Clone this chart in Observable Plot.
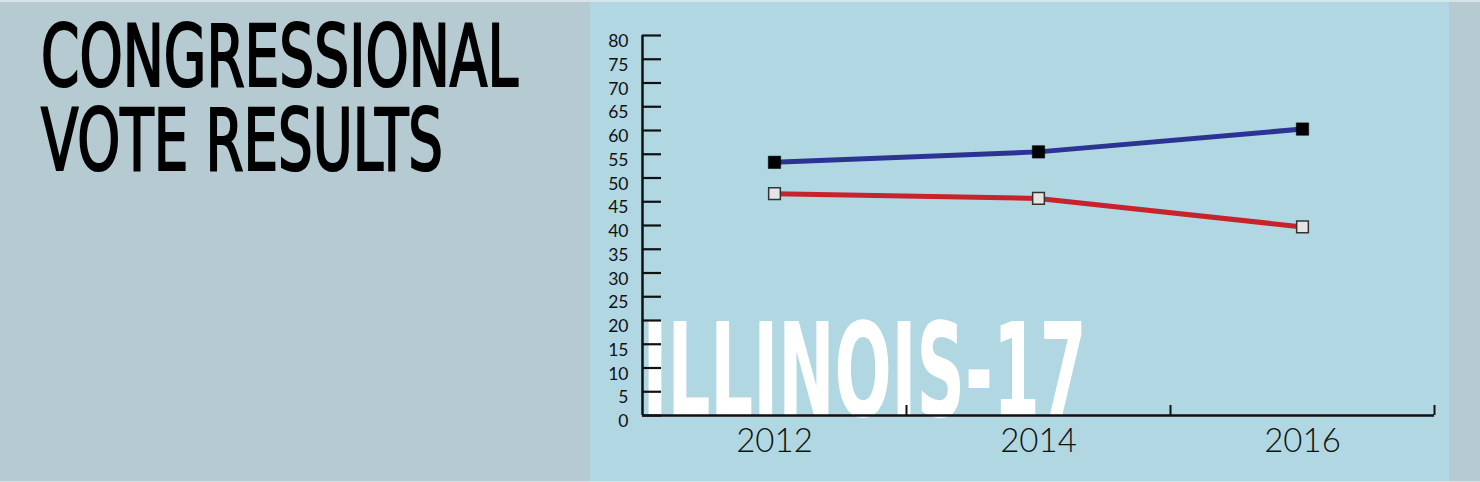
<!DOCTYPE html>
<html>
<head>
<meta charset="utf-8">
<script src="https://cdn.jsdelivr.net/npm/d3@7"></script>
<script src="https://cdn.jsdelivr.net/npm/@observablehq/plot@0.6"></script>
<style>
  html, body { margin: 0; padding: 0; }
  body { width: 1480px; height: 482px; overflow: hidden; background: #b5cad1; position: relative; }
  #panel { position: absolute; left: 590px; top: 0; width: 859px; height: 482px; background: #b1d7e2; }
  #topline { position: absolute; left: 0; top: 0; width: 1480px; height: 2px; background: #d6e3e7; }
  #botline { position: absolute; left: 0; bottom: 0; width: 1480px; height: 1px; background: #d6e3e7; }
  #title { position: absolute; left: 0; top: 0; }
  #chart { position: absolute; left: 0; top: 0; }
</style>
</head>
<body>
<div id="panel"></div>
<div id="topline"></div>
<div id="botline"></div>
<svg id="title" width="1480" height="200"></svg>
<div id="chart"></div>
<script>
// ---- data ----
const years = [2012, 2014, 2016];
const democratShare = [53.3, 55.5, 60.3];
const republicanShare = [46.7, 45.7, 39.7];
const yTicks = [0, 5, 10, 15, 20, 25, 30, 35, 40, 45, 50, 55, 60, 65, 70, 75, 80];
const xBoundaries = [2013, 2015, 2017];
const titleLines = ["CONGRESSIONAL", "VOTE RESULTS"];
const districtLabel = "ILLINOIS-17";

// ---- title ----
const condensed = "'DejaVu Sans Condensed', 'Liberation Sans Narrow', 'DejaVu Sans', sans-serif";
const titleWidths = [477, 402];
const titleBaselines = [86, 170];
d3.select("#title").selectAll("text")
  .data(titleLines)
  .join("text")
  .attr("x", 41)
  .attr("y", (d, i) => titleBaselines[i])
  .attr("textLength", (d, i) => titleWidths[i])
  .attr("lengthAdjust", "spacingAndGlyphs")
  .attr("font-family", condensed)
  .attr("font-weight", "normal")
  .attr("font-size", 85)
  .attr("fill", "#000")
  .attr("stroke", "#000")
  .attr("stroke-width", 2.2)
  .text(d => d);

// ---- chart ----
const dem = years.map((year, i) => ({year, pct: democratShare[i]}));
const rep = years.map((year, i) => ({year, pct: republicanShare[i]}));

const chart = Plot.plot({
  width: 1480,
  height: 482,
  marginLeft: 642,
  marginRight: 46,
  marginTop: 35,
  marginBottom: 67,
  style: {background: "transparent", fontFamily: "Lato, 'Noto Sans', sans-serif", overflow: "visible", color: "#111"},
  x: {domain: [2011, 2017]},
  y: {domain: [0, 80]},
  marks: [
    Plot.text([districtLabel], {
      frameAnchor: "bottom-left", textAnchor: "start", lineAnchor: "bottom",
      fill: "white", fontSize: 130, fontWeight: "bold", fontFamily: condensed
    }),
    Plot.ruleY(yTicks, {x1: 2011, x2: 2011, insetRight: -19, stroke: "#111", strokeWidth: 2.2}),
    Plot.ruleX([2011], {stroke: "#111", strokeWidth: 2.5}),
    Plot.ruleY([0], {stroke: "#111", strokeWidth: 2.5}),
    Plot.ruleX(xBoundaries, {y1: 0, y2: 0, insetTop: -10, stroke: "#111", strokeWidth: 2}),
    Plot.axisY(yTicks, {tickSize: 0, tickPadding: 14, fontSize: 17.5, dy: 6, label: null, fill: "#111"}),
    Plot.axisX(years, {tickSize: 0, tickPadding: 13, fontSize: 33, fontWeight: 300, label: null, tickFormat: d => String(d), fill: "#111"}),
    Plot.line(dem, {x: "year", y: "pct", stroke: "#2b3492", strokeWidth: 5}),
    Plot.line(rep, {x: "year", y: "pct", stroke: "#c6232c", strokeWidth: 5}),
    Plot.dot(dem, {x: "year", y: "pct", symbol: "square", r: 7, fill: "#000", stroke: "#000", strokeWidth: 0.5}),
    Plot.dot(rep, {x: "year", y: "pct", symbol: "square", r: 6.6, fill: "#e4e4e4", stroke: "#333", strokeWidth: 1.5})
  ]
});

d3.select(chart).selectAll('g[aria-label="text"] text')
  .attr("textLength", 444)
  .attr("lengthAdjust", "spacingAndGlyphs");

document.getElementById("chart").appendChild(chart);
</script>
</body>
</html>
